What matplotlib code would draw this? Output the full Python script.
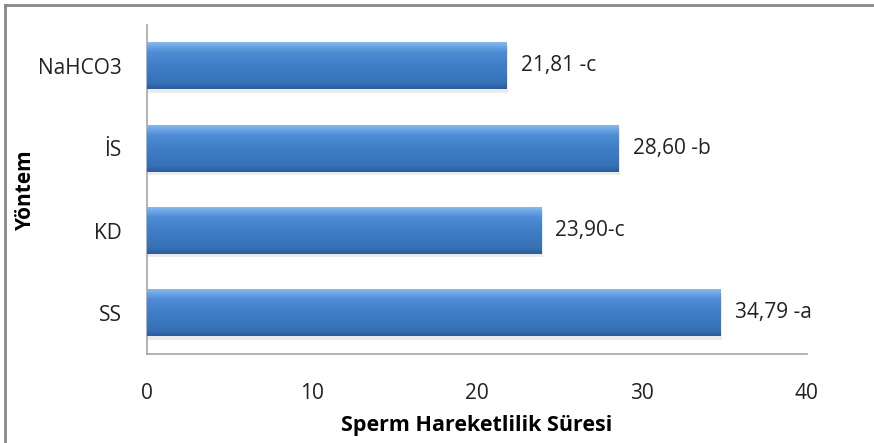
import numpy as np
import matplotlib
matplotlib.use("Agg")
import matplotlib.pyplot as plt
from matplotlib.lines import Line2D

plt.rcParams['font.family'] = ['Open Sans', 'DejaVu Sans']

methods = ["SS", "KD", "İS", "NaHCO3"]
values = [34.79, 23.90, 28.60, 21.81]
labels = ["34,79 -a", "23,90-c", "28,60 -b", "21,81 -c"]

fig = plt.figure(figsize=(8.74, 4.43), dpi=100)
ax = fig.add_axes([0.168, 0.201, 0.755, 0.743])

bars = ax.barh(methods, values, height=0.57, color="#3d7cc4", edgecolor="none", zorder=2)

# vertical gradient inside each bar for the bevel look
grad = np.linspace(0, 1, 64).reshape(-1, 1)
cmap = matplotlib.colors.LinearSegmentedColormap.from_list(
    "bev", [(0, "#2a5d9c"), (0.12, "#3771b5"), (0.5, "#3f7ec6"), (0.8, "#4f8ed6"), (1, "#86b8ee")])
for b in bars:
    x0, y0 = b.get_x(), b.get_y()
    w, h = b.get_width(), b.get_height()
    # soft shadow
    ax.add_patch(plt.Rectangle((x0 + 0.1, y0 - 0.04), w, h, color="#000000", alpha=0.08, zorder=1, lw=0))
    ax.imshow(grad, extent=(x0, x0 + w, y0, y0 + h), origin="lower", cmap=cmap,
              aspect="auto", zorder=3, interpolation="bilinear")

for b, lab in zip(bars, labels):
    ax.text(b.get_width() + 0.85, b.get_y() + b.get_height() / 2, lab,
            va="center", ha="left", fontsize=15, color="#222222", zorder=4)

ax.set_xlim(0, 40)
ax.set_ylim(-0.5, 3.5)
ax.set_xticks([0, 10, 20, 30, 40])
ax.tick_params(axis="both", length=0, labelsize=15, colors="#222222")
ax.tick_params(axis="x", pad=21)
ax.tick_params(axis="y", pad=18)
for s in ["top", "right"]:
    ax.spines[s].set_visible(False)
for s in ["left", "bottom"]:
    ax.spines[s].set_color("#a6a6a6")
    ax.spines[s].set_linewidth(1.2)

ax.set_xlabel("Sperm Hareketlilik Süresi", fontsize=15.5, fontweight="bold", labelpad=8)
ax.set_ylabel("Yöntem", fontsize=15, fontweight="bold")
ax.yaxis.set_label_coords(-0.168, 0.5)

# outer chart border (top and left visible)
fig.add_artist(Line2D([0.006, 1.0], [0.989, 0.989], color="#888888", lw=2, transform=fig.transFigure))
fig.add_artist(Line2D([0.006, 0.006], [0.0, 0.989], color="#888888", lw=2, transform=fig.transFigure))

fig.savefig("out.png", dpi=100)
